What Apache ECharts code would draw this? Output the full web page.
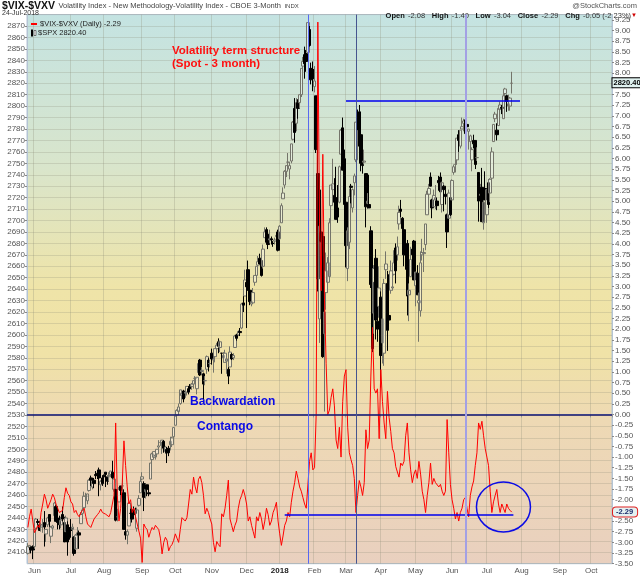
<!DOCTYPE html>
<html>
<head>
<meta charset="utf-8">
<script src="https://cdn.jsdelivr.net/npm/echarts@6/dist/echarts.min.js"></script>
<style>
  html, body { margin: 0; padding: 0; background: #fff; }
  #chart { width: 640px; height: 576px; }
</style>
</head>
<body>
<div id="chart"></div>
<script>
// trading calendar (market holidays are skipped)
const firstDay = '2017-05-25';
const lastDay = '2018-10-17';
const holidays = ['2017-05-29', '2017-07-04', '2017-09-04', '2017-11-23', '2017-12-25',
  '2018-01-01', '2018-01-15', '2018-02-19', '2018-03-30', '2018-05-28', '2018-07-04', '2018-09-03'];
const monthNames = ['Jan', 'Feb', 'Mar', 'Apr', 'May', 'Jun', 'Jul', 'Aug', 'Sep', 'Oct', 'Nov', 'Dec'];

// $SPX daily [open, high, low, close]
const spx = [
  [2409,2418,2408,2415],[2414,2416,2411,2416],[2414,2415,2409,2412],[2415,2416,2404,2412],
  // Jun 2017
  [2415,2430,2413,2430],[2431,2440,2427,2439],[2437,2439,2434,2436],[2434,2435,2429,2429],[2432,2436,2428,2434],
  [2434,2439,2427,2434],[2436,2446,2415,2432],[2426,2430,2419,2430],[2434,2441,2432,2440],[2443,2443,2428,2437],
  [2424,2433,2418,2432],[2431,2434,2425,2433],[2442,2454,2442,2453],[2450,2451,2437,2437],[2440,2442,2430,2436],
  [2437,2442,2430,2434],[2434,2441,2431,2438],[2443,2450,2437,2439],[2436,2441,2419,2419],[2428,2442,2428,2440],
  [2434,2437,2407,2419],[2429,2432,2421,2423],
  // Jul 2017
  [2431,2439,2424,2429],[2430,2435,2421,2432],[2423,2424,2407,2409],[2413,2426,2412,2425],[2425,2432,2422,2427],
  [2427,2429,2413,2425],[2435,2445,2435,2443],[2444,2449,2441,2447],[2449,2463,2446,2459],[2459,2462,2456,2459],
  [2455,2461,2452,2461],[2464,2474,2463,2473],[2475,2477,2468,2473],[2467,2473,2465,2472],[2473,2475,2466,2470],
  [2478,2481,2474,2477],[2479,2481,2474,2477],[2482,2484,2459,2475],[2469,2473,2464,2472],[2475,2477,2468,2470],
  // Aug 2017
  [2477,2478,2472,2476],[2480,2480,2467,2478],[2476,2477,2469,2472],[2476,2480,2472,2477],[2478,2481,2476,2481],
  [2480,2490,2470,2475],[2465,2475,2463,2474],[2465,2465,2437,2438],[2441,2448,2437,2441],[2454,2467,2454,2465],
  [2468,2468,2460,2464],[2468,2475,2461,2468],[2462,2465,2430,2430],[2428,2441,2421,2425],[2425,2430,2417,2428],
  [2433,2454,2433,2453],[2444,2448,2441,2444],[2447,2450,2436,2439],[2444,2450,2441,2443],[2447,2449,2439,2444],
  [2431,2449,2428,2447],[2451,2460,2450,2457],[2462,2475,2462,2472],
  // Sep 2017
  [2474,2480,2473,2476],[2470,2472,2446,2458],[2463,2470,2457,2465],[2469,2469,2459,2465],[2462,2467,2459,2461],
  [2474,2488,2474,2488],[2491,2497,2488,2496],[2493,2498,2492,2498],[2494,2498,2491,2495],[2496,2500,2493,2500],
  [2502,2508,2499,2503],[2506,2507,2503,2506],[2506,2508,2496,2508],[2507,2508,2497,2501],[2498,2503,2496,2502],
  [2500,2502,2488,2497],[2501,2503,2494,2497],[2504,2511,2499,2507],[2504,2511,2502,2510],[2511,2519,2508,2519],
  // Oct 2017
  [2521,2529,2521,2529],[2530,2535,2528,2534],[2533,2540,2531,2537],[2540,2552,2539,2552],[2547,2550,2545,2549],
  [2551,2552,2541,2544],[2549,2555,2545,2550],[2550,2555,2547,2555],[2553,2555,2548,2550],[2555,2557,2552,2553],
  [2555,2558,2552,2557],[2557,2560,2553,2560],[2562,2564,2559,2562],[2553,2563,2548,2563],[2567,2575,2566,2575],
  [2578,2579,2564,2565],[2568,2572,2565,2569],[2566,2567,2544,2557],[2560,2564,2556,2560],[2570,2582,2566,2581],
  [2578,2580,2568,2572],[2575,2578,2572,2575],
  // Nov 2017
  [2584,2588,2574,2579],[2578,2581,2567,2579],[2581,2588,2576,2588],[2588,2593,2585,2591],[2594,2597,2584,2590],
  [2589,2595,2585,2594],[2584,2584,2566,2584],[2580,2585,2576,2582],[2576,2587,2576,2584],[2577,2580,2566,2579],
  [2570,2572,2557,2564],[2572,2590,2572,2585],[2583,2584,2578,2579],[2580,2584,2578,2582],[2589,2600,2589,2599],
  [2600,2601,2595,2597],[2600,2604,2599,2603],[2603,2606,2599,2602],[2606,2628,2605,2627],[2628,2635,2620,2626],
  [2634,2657,2634,2648],
  // Dec 2017
  [2646,2650,2606,2642],[2657,2665,2639,2639],[2639,2648,2626,2629],[2627,2635,2625,2629],[2628,2641,2627,2637],
  [2646,2652,2643,2652],[2652,2660,2652,2660],[2661,2669,2659,2664],[2667,2671,2662,2662],[2665,2668,2651,2652],
  [2660,2679,2658,2675],[2685,2694,2685,2690],[2692,2694,2680,2681],[2688,2692,2675,2679],[2683,2692,2680,2684],
  [2684,2686,2679,2683],[2680,2682,2677,2680],[2682,2685,2679,2683],[2686,2688,2683,2687],[2690,2692,2673,2674],
  // Jan 2018
  [2684,2696,2683,2695],[2698,2715,2698,2713],[2719,2729,2719,2724],[2731,2744,2728,2743],[2743,2748,2738,2748],
  [2751,2759,2747,2751],[2745,2751,2736,2748],[2752,2767,2750,2767],[2771,2787,2770,2786],[2798,2807,2768,2777],
  [2785,2807,2778,2803],[2803,2806,2789,2798],[2803,2810,2798,2810],[2810,2833,2808,2833],[2835,2843,2831,2839],
  [2845,2852,2824,2837],[2846,2849,2830,2839],[2847,2873,2846,2873],[2867,2870,2852,2853],[2833,2838,2819,2823],
  [2832,2839,2813,2824],
  // Feb 2018
  [2817,2835,2812,2822],[2809,2809,2759,2762],[2741,2763,2638,2649],[2614,2701,2593,2695],[2690,2727,2681,2682],
  [2686,2686,2580,2581],[2601,2638,2533,2620],[2637,2672,2622,2656],[2646,2668,2637,2663],[2651,2702,2648,2698],
  [2713,2731,2689,2731],[2727,2754,2725,2732],[2722,2737,2706,2716],[2720,2747,2701,2701],[2711,2731,2698,2703],
  [2716,2748,2715,2747],[2758,2780,2758,2779],[2781,2790,2744,2744],[2754,2762,2713,2714],
  // Mar 2018
  [2716,2731,2659,2678],[2658,2694,2647,2691],[2681,2728,2675,2721],[2730,2732,2715,2729],[2711,2728,2707,2727],
  [2733,2741,2722,2739],[2753,2786,2751,2786],[2790,2797,2779,2783],[2795,2801,2758,2765],[2775,2776,2743,2750],
  [2754,2763,2741,2748],[2751,2762,2749,2752],[2741,2741,2694,2712],[2715,2724,2710,2717],[2714,2740,2711,2711],
  [2691,2695,2641,2644],[2646,2657,2585,2588],[2619,2661,2601,2658],[2667,2675,2596,2613],[2612,2630,2594,2605],
  [2625,2660,2615,2641],
  // Apr 2018
  [2633,2638,2554,2582],[2593,2619,2575,2614],[2584,2649,2573,2645],[2657,2673,2649,2662],[2645,2656,2586,2604],
  [2617,2653,2610,2613],[2639,2665,2636,2656],[2641,2662,2639,2642],[2653,2674,2652,2663],[2676,2680,2645,2656],
  [2670,2686,2665,2677],[2697,2713,2692,2707],[2710,2718,2703,2708],[2702,2703,2682,2693],[2692,2694,2660,2670],
  [2675,2683,2657,2670],[2680,2683,2617,2634],[2635,2645,2612,2639],[2651,2677,2651,2666],[2675,2678,2658,2670],
  [2682,2683,2648,2648],
  // May 2018
  [2643,2655,2625,2655],[2654,2661,2635,2635],[2628,2637,2594,2630],[2621,2673,2616,2663],[2670,2684,2665,2672],
  [2671,2676,2655,2672],[2679,2697,2674,2697],[2705,2726,2705,2723],[2723,2732,2717,2728],[2738,2742,2730,2730],
  [2718,2719,2702,2711],[2712,2727,2712,2722],[2718,2731,2710,2720],[2717,2720,2709,2713],[2735,2739,2726,2733],
  [2738,2742,2721,2725],[2714,2734,2707,2733],[2730,2731,2708,2727],[2723,2727,2714,2721],[2705,2706,2676,2690],
  [2702,2727,2702,2724],[2720,2723,2704,2705],
  // Jun 2018
  [2718,2736,2718,2735],[2742,2749,2740,2747],[2749,2753,2742,2749],[2753,2772,2749,2772],[2775,2779,2760,2770],
  [2765,2779,2763,2779],[2780,2790,2780,2782],[2785,2789,2778,2787],[2788,2792,2774,2776],[2784,2786,2773,2782],
  [2778,2780,2762,2780],[2769,2775,2758,2774],[2753,2764,2743,2762],[2770,2775,2763,2767],[2770,2770,2745,2749],
  [2755,2764,2752,2755],[2742,2742,2699,2717],[2722,2732,2713,2723],[2729,2746,2699,2699],[2698,2724,2692,2716],
  [2728,2743,2718,2718],
  // Jul 2018
  [2705,2727,2698,2727],[2733,2736,2711,2714],[2724,2737,2716,2736],[2737,2764,2733,2760],[2769,2784,2769,2784],
  [2789,2795,2786,2793],[2779,2785,2770,2775],[2783,2799,2783,2798],[2797,2804,2795,2801],[2799,2801,2793,2798],
  [2789,2814,2789,2809],[2811,2816,2805,2815],[2809,2810,2795,2804],[2800,2810,2796,2802],[2800,2808,2796,2807],
  [2820,2830,2811,2820]
];

// $VIX-$VXV daily close
const spread = [
  -2.65, -2.4, -2.22, -2.5,
  -2.77, -2.7, -2.6, -2.65, -2.3, -2.1, -1.87, -2.0, -2.2, -2.1, -2.0, -1.87, -1.95, -2.1, -2.2, -2.3, -2.34, -2.25, -1.95, -1.72, -1.85, -1.9,
  -2.05, -2.1, -2.3, -2.25, -2.35, -2.4, -2.3, -2.25, -2.2, -2.4, -2.57, -2.6, -2.65, -2.55, -2.45, -2.42, -2.35, -2.3, -2.22, -2.3,
  -2.3, -2.34, -2.35, -2.4, -2.3, -2.34, -1.9, -0.2, -1.9, -2.5, -2.2, -1.6, -0.62, -1.2, -1.7, -2.1, -2.0, -2.3, -2.2, -2.4, -2.57, -2.6, -2.9,
  -3.47, -2.57, -2.65, -2.7, -2.88, -2.75, -2.65, -2.7, -2.6, -2.57, -2.7, -2.9, -3.27, -3.0, -2.88, -2.95, -3.2, -3.1, -3.05, -2.95,
  -2.8, -2.9, -3.0, -2.7, -2.42, -2.45, -2.5, -2.42, -2.1, -1.76, -1.87, -1.47, -1.7, -1.84, -1.52, -1.45, -1.6, -1.9, -2.33, -2.2, -2.3, -2.45,
  -2.57, -3.0, -3.22, -2.98, -3.05, -3.1, -2.33, -2.4, -2.2, -1.9, -1.54, -2.45, -2.6, -2.75, -2.6, -2.5, -2.2, -2.0, -1.9, -1.76, -1.9,
  -2.1, -2.5, -2.4, -2.6, -2.75, -2.9, -2.4, -2.5, -2.3, -2.45, -2.7, -2.5, -2.2, -2.35, -2.6, -2.5, -2.3, -2.2, -2.06, -2.5,
  -2.8, -3.07, -2.85, -2.6, -2.5, -2.3, -2.4, -2.06, -1.8, -1.6, -1.33, -1.5, -1.7, -1.8, -1.95, -2.1, -2.2, -2.2, -1.1, -0.9, -1.3,
  -1.25, 0.0, 9.2, 4.5, 2.9, 6.1, 2.7, 1.2, 0.0, 0.1, 0.4, 0.6, 0.2, -0.6, -0.8, -0.3, -1.0, 0.3, 0.9,
  1.05, -0.3, -0.9, -1.06, -1.2, -1.5, -2.3, -1.9, -1.55, -1.7, -1.9, -1.6, -0.36, -0.8, -0.6, 0.9, 2.04, 0.6, 0.5, 0.6, -0.57,
  1.05, 0.3, -0.2, -0.57, 0.54, -0.07, -0.4, -0.8, -0.9, -1.22, -1.35, -1.47, -1.14, -1.2, -1.1, -0.5, -0.2, -0.9, -1.3, -1.6, -1.4,
  -1.3, -1.5, -1.1, -1.4, -1.8, -2.0, -2.3, -1.9, -1.6, -1.14, -1.64, -1.5, -1.6, -1.56, -1.7, -1.64, -1.8, -1.9, -1.8, -0.12, -0.9, -1.64,
  -2.0, -2.2, -2.45, -2.3, -2.5, -2.3, -2.2, -2.0, -1.95, -2.2, -2.4, -1.9, -1.7, -1.56, -1.2, -0.9, -0.2, -0.35, -0.16, -0.5, -0.8,
  -1.0, -1.2, -1.8, -2.3, -2.05, -1.9, -1.76, -2.1, -2.3, -2.1, -2.2, -2.3, -2.1, -2.2, -2.25, -2.29
];

// hand-drawn annotations: [date, value]
const peakMarkers = ['2018-01-26', '2018-03-09', '2018-06-13'];
const resistanceLine = [['2018-03-01', 2805], ['2018-07-31', 2805]];
const supportLine = [['2018-01-05', -2.35], ['2018-07-25', -2.35]];
const circleCenter = ['2018-07-17', -2.17];
const lastSpx = 2820.40;
const lastSpread = -2.29;

function tradingDays(from, to, skip) {
  const out = [];
  const d = new Date(from + 'T00:00:00Z');
  const end = new Date(to + 'T00:00:00Z');
  while (d <= end) {
    const wd = d.getUTCDay();
    const s = d.toISOString().slice(0, 10);
    if (wd !== 0 && wd !== 6 && skip.indexOf(s) < 0) out.push(s);
    d.setUTCDate(d.getUTCDate() + 1);
  }
  return out;
}

const dates = tradingDays(firstDay, lastDay, holidays);
const monthStart = dates.map((d, i) => i > 0 && d.slice(5, 7) !== dates[i - 1].slice(5, 7));
const candles = spx.map(r => [r[0], r[3], r[2], r[1]]); // echarts wants o, c, l, h

const FONT = '"Liberation Sans", Arial, sans-serif';
const chart = echarts.init(document.getElementById('chart'), null, { renderer: 'canvas' });

const option = {
  animation: false,
  textStyle: { fontFamily: FONT },
  grid: {
    left: 27, right: 28, top: 14.6, bottom: 12.3,
    containLabel: false, outerBoundsMode: 'none',
    show: true,
    borderColor: '#b4c4d4', borderWidth: 1,
    backgroundColor: new echarts.graphic.LinearGradient(0, 0, 0, 1, [
      { offset: 0, color: '#c4e3e2' },
      { offset: 0.28, color: '#d9e5cb' },
      { offset: 0.5, color: '#efe4a8' },
      { offset: 0.62, color: '#f0e2a7' },
      { offset: 0.74, color: '#eed9b4' },
      { offset: 1, color: '#e9d0bf' }
    ])
  },
  xAxis: {
    type: 'category',
    data: dates,
    boundaryGap: true,
    axisLine: { show: true, lineStyle: { color: '#b4c4d4' } },
    axisTick: { show: true, interval: i => monthStart[i], length: 3, lineStyle: { color: '#999' } },
    axisLabel: {
      interval: i => monthStart[i],
      margin: 3,
      fontSize: 8,
      color: '#555',
      hideOverlap: false,
      formatter: v => {
        const m = +v.slice(5, 7);
        return m === 1 ? '{y|' + v.slice(0, 4) + '}' : monthNames[m - 1];
      },
      rich: { y: { fontSize: 8, fontWeight: 'bold', color: '#222' } }
    },
    splitLine: { show: true, interval: i => monthStart[i], lineStyle: { color: 'rgba(140,140,120,0.28)', width: 1 } }
  },
  yAxis: [
    {
      type: 'value', position: 'left',
      min: 2400, max: 2880, interval: 10,
      axisLine: { show: true, lineStyle: { color: '#b4c4d4' } },
      axisTick: { show: true, length: 2, lineStyle: { color: '#888' } },
      axisLabel: { fontSize: 8, color: '#555', margin: 2, showMinLabel: false, showMaxLabel: false, formatter: v => String(v) },
      splitLine: { show: true, lineStyle: { color: 'rgba(140,140,120,0.25)', width: 1 } }
    },
    {
      type: 'value', position: 'right',
      min: -3.5, max: 9.375, interval: 0.25,
      axisLine: { show: true, lineStyle: { color: '#b4c4d4' } },
      axisTick: { show: true, length: 2, lineStyle: { color: '#888' } },
      axisLabel: { fontSize: 8, color: '#555', margin: 3, showMaxLabel: false, formatter: v => v.toFixed(2) },
      splitLine: { show: false }
    }
  ],
  series: [
    {
      name: '$SPX',
      type: 'candlestick',
      xAxisIndex: 0, yAxisIndex: 0,
      data: candles,
      barWidth: 3,
      z: 2,
      itemStyle: {
        color: 'rgba(255,255,255,0.3)', borderColor: '#74746a',
        color0: '#000', borderColor0: '#000',
        borderWidth: 1
      },
      markLine: {
        silent: true, symbol: 'none', animation: false,
        label: { show: false },
        lineStyle: { color: '#0000ee', width: 1.5, type: 'solid' },
        data: [[{ coord: resistanceLine[0] }, { coord: resistanceLine[1] }]]
      }
    },
    {
      name: '$VIX-$VXV',
      type: 'line',
      xAxisIndex: 0, yAxisIndex: 1,
      data: spread,
      z: 3,
      symbol: 'none',
      lineStyle: { color: '#ff0000', width: 1 },
      markLine: {
        silent: true, symbol: 'none', animation: false,
        label: { show: false },
        data: [
          { yAxis: 0, lineStyle: { color: '#14146e', width: 1.5, type: 'solid' } },
          [
            { coord: supportLine[0], lineStyle: { color: '#0000ee', width: 1.5, type: 'solid' } },
            { coord: supportLine[1] }
          ],
          { xAxis: peakMarkers[0], lineStyle: { color: '#5868f2', width: 1, type: 'solid' } },
          { xAxis: peakMarkers[1], lineStyle: { color: '#46558f', width: 1, type: 'solid' } },
          { xAxis: peakMarkers[2], lineStyle: { color: '#a3a0e4', width: 2, type: 'solid' } }
        ]
      }
    }
  ]
};

chart.setOption(option);

// pixel anchors taken from the axes
const spxY = chart.convertToPixel({ seriesIndex: 0 }, [dates[spx.length - 1], lastSpx])[1];
const sprY = chart.convertToPixel({ seriesIndex: 1 }, [dates[spread.length - 1], lastSpread])[1];
const circ = chart.convertToPixel({ seriesIndex: 1 }, circleCenter);

chart.setOption({
  graphic: [
    // header
    {
      type: 'text', left: 2, top: 0,
      style: {
        text: '{b|$VIX-$VXV} {n|Volatility Index - New Methodology-Volatility Index - CBOE 3-Month} {s|INDX}',
        rich: {
          b: { font: 'bold 10.5px ' + FONT, fill: '#111' },
          n: { font: '7.5px ' + FONT, fill: '#444' },
          s: { font: '6px ' + FONT, fill: '#444' }
        }
      }
    },
    { type: 'text', left: 2, top: 9.5, style: { text: '24-Jul-2018', font: '7px ' + FONT, fill: '#333' } },
    { type: 'text', right: 3, top: 2, style: { text: '@StockCharts.com', font: '7.5px ' + FONT, fill: '#555' } },
    {
      type: 'text', right: 3, top: 9.5,
      style: {
        text: '{l|Open} {v|-2.08}  {l|High} {v|-1.40}  {l|Low} {v|-3.04}  {l|Close} {v|-2.29}  {l|Chg} {v|-0.05 (-2.23%)}{r|▼}',
        rich: {
          l: { font: 'bold 7.5px ' + FONT, fill: '#111' },
          v: { font: '7.5px ' + FONT, fill: '#333' },
          r: { font: '6px ' + FONT, fill: '#d00000' }
        }
      }
    },
    // legend inside the plot
    { type: 'rect', shape: { x: 31, y: 23, width: 6, height: 2 }, style: { fill: '#ff0000' } },
    { type: 'text', x: 40, y: 20, style: { text: '$VIX-$VXV (Daily) -2.29', font: '7.5px ' + FONT, fill: '#222' } },
    { type: 'rect', shape: { x: 31, y: 29.5, width: 2, height: 7 }, style: { fill: '#000' } },
    { type: 'rect', shape: { x: 34, y: 30.5, width: 2, height: 5 }, style: { fill: '#fff', stroke: '#555', lineWidth: 0.8 } },
    { type: 'text', x: 38, y: 29, style: { text: '$SPX 2820.40', font: '7.5px ' + FONT, fill: '#222' } },
    // notes
    { type: 'text', x: 172, y: 45, style: { text: 'Volatility term structure', font: 'bold 11.5px ' + FONT, fill: '#ff1010' } },
    { type: 'text', x: 172, y: 58, style: { text: '(Spot - 3 month)', font: 'bold 11.5px ' + FONT, fill: '#ff1010' } },
    { type: 'text', x: 190, y: 396, style: { text: 'Backwardation', font: 'bold 12px ' + FONT, fill: '#0a0ae6' } },
    { type: 'text', x: 197, y: 421, style: { text: 'Contango', font: 'bold 12px ' + FONT, fill: '#0a0ae6' } },
    {
      type: 'ellipse', z: 50,
      shape: { cx: circ[0], cy: circ[1], rx: 27, ry: 25 },
      style: { fill: 'none', stroke: '#0a0ae6', lineWidth: 1.5 }
    },
    // last-value tags on the right axis
    {
      type: 'text', x: 612.5, y: spxY, z: 60,
      style: {
        text: '2820.40', font: 'bold 7.5px ' + FONT, fill: '#000', verticalAlign: 'middle',
        backgroundColor: '#dff1ef', borderColor: '#000', borderWidth: 1, padding: [1, 1, 0, 1]
      }
    },
    {
      type: 'text', x: 613, y: sprY, z: 60,
      style: {
        text: '-2.29', font: 'bold 7.5px ' + FONT, fill: '#1a2a6a', verticalAlign: 'middle',
        backgroundColor: '#e3f1f1', borderColor: '#e02020', borderWidth: 1, borderRadius: 3, padding: [1, 4, 0, 3]
      }
    }
  ]
});
</script>
</body>
</html>
